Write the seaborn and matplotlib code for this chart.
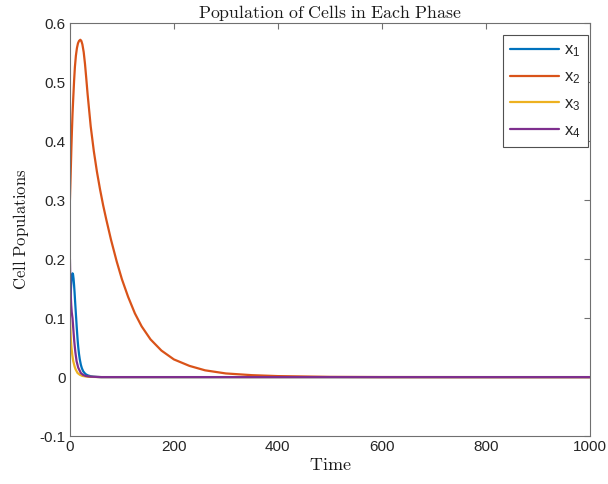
import numpy as np
import pandas as pd
import matplotlib
matplotlib.use("Agg")
import matplotlib.pyplot as plt
import seaborn as sns

# Phase populations over time (each phase sampled on its own time grid)
t1 = [0, 1, 2, 3, 4, 5, 6, 7, 8, 9, 10, 11, 12, 13, 14, 15, 16, 17.5, 19, 21,
      23, 25.5, 28, 31, 35, 40, 45, 52, 60, 100, 300, 1000]
x1 = [0.100, 0.128, 0.150, 0.165, 0.173, 0.176, 0.174, 0.167, 0.156, 0.143,
      0.128, 0.114, 0.100, 0.086, 0.073, 0.061, 0.051, 0.039, 0.030, 0.021,
      0.015, 0.010, 0.007, 0.0045, 0.0028, 0.0015, 0.0008, 0.0003, 0.0,
      0.0, 0.0, 0.0]

t2 = [0, 0.5, 1, 1.9, 2.8, 3.8, 5, 6.4, 8, 9.6, 11.5, 13.5, 15.5, 17.5, 20,
      22, 24, 26.5, 29, 31.5, 34, 40, 46, 52, 58, 64, 70, 79, 90, 100, 112,
      125, 138, 155, 176, 200, 230, 260, 300, 350, 400, 500, 600, 800, 1000]
x2 = [0.300, 0.316, 0.331, 0.359, 0.388, 0.416, 0.446, 0.473, 0.502, 0.526,
      0.545, 0.558, 0.566, 0.570, 0.572, 0.570, 0.564, 0.551, 0.531, 0.506,
      0.480, 0.425, 0.383, 0.348, 0.318, 0.291, 0.267, 0.233, 0.196, 0.166,
      0.136, 0.108, 0.086, 0.064, 0.045, 0.030, 0.019, 0.0115, 0.0062, 0.0033,
      0.0017, 0.0004, 0.0001, 0.0, 0.0]

t3 = [0, 1, 2, 3, 4.5, 6.4, 9, 11, 14.7, 19, 24, 35, 60, 1000]
x3 = [0.100, 0.080, 0.061, 0.050, 0.038, 0.027, 0.018, 0.013, 0.007, 0.004,
      0.002, 0.0005, 0.0, 0.0]

t4 = [0, 0.5, 1, 1.5, 2.5, 3.5, 5, 6.5, 8.3, 10.5, 12.8, 16, 21, 25, 30, 40,
      60, 1000]
x4 = [0.200, 0.175, 0.155, 0.140, 0.122, 0.110, 0.100, 0.082, 0.061, 0.042,
      0.027, 0.016, 0.007, 0.004, 0.002, 0.0007, 0.0, 0.0]

labels = [r"$\mathregular{x_1}$", r"$\mathregular{x_2}$",
          r"$\mathregular{x_3}$", r"$\mathregular{x_4}$"]
colors = ["#0072BD", "#D95319", "#EDB120", "#7E2F8E"]

frames = []
for t, x, lab in zip([t1, t2, t3, t4], [x1, x2, x3, x4], labels):
    frames.append(pd.DataFrame({"Time": t, "Population": x, "Phase": lab}))
df = pd.concat(frames, ignore_index=True)

sns.set_theme(style="white")
plt.rcParams["font.family"] = ["Liberation Sans", "DejaVu Sans"]
plt.rcParams["mathtext.fontset"] = "cm"

fig = plt.figure(figsize=(6.08, 4.84), dpi=100)
ax = fig.add_axes([0.115, 0.099, 0.855, 0.853])

sns.lineplot(data=df, x="Time", y="Population", hue="Phase",
             palette=colors, hue_order=labels, estimator=None, sort=True,
             linewidth=1.6, ax=ax)

ax.set_xlim(0, 1000)
ax.set_ylim(-0.1, 0.6)
ax.set_xticks([0, 200, 400, 600, 800, 1000])
ax.set_yticks([-0.1, 0, 0.1, 0.2, 0.3, 0.4, 0.5, 0.6])
ax.set_yticklabels(["-0.1", "0", "0.1", "0.2", "0.3", "0.4", "0.5", "0.6"])

spine_col = "#707070"
for s in ax.spines.values():
    s.set_color(spine_col)
    s.set_linewidth(0.8)
    s.set_visible(True)
ax.tick_params(direction="in", length=4, width=0.8, color=spine_col,
               top=True, right=True, labelsize=11, labelcolor="#262626", pad=3)

ax.set_title(r"$\mathrm{Population\ of\ Cells\ in\ Each\ Phase}$",
             fontsize=12.8, pad=4, color="#1a1a1a")
ax.set_xlabel(r"$\mathrm{Time}$", fontsize=13, labelpad=2, color="#1a1a1a")
ax.set_ylabel(r"$\mathrm{Cell\ Populations}$", fontsize=12, labelpad=6,
              color="#1a1a1a")

leg = ax.legend(loc="upper right", title=None, fontsize=12, frameon=True,
                fancybox=False, framealpha=1, edgecolor="#505050",
                handlelength=2.9, handletextpad=0.3, labelspacing=0.6,
                borderpad=0.45, borderaxespad=0,
                bbox_to_anchor=(0.996, 0.971))
leg.get_frame().set_linewidth(0.8)

fig.savefig("out.png", dpi=100)
